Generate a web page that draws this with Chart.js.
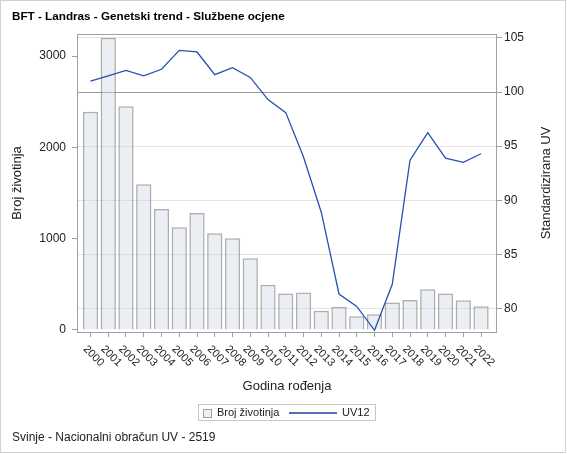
<!DOCTYPE html>
<html>
<head>
<meta charset="utf-8">
<script src="https://cdn.jsdelivr.net/npm/chart.js@4"></script>
<style>
  body { margin: 0; background: #fff; }
  #wrap { width: 567px; height: 454px; }
</style>
</head>
<body>
<div id="wrap"><canvas id="c" width="567" height="454"></canvas></div>
<script>
// values
const categories = ['2000','2001','2002','2003','2004','2005','2006','2007','2008','2009','2010',
  '2011','2012','2013','2014','2015','2016','2017','2018','2019','2020','2021','2022'];
const brojZivotinja = [2390, 3200, 2450, 1595, 1325, 1125, 1280, 1060, 1005, 785, 495,
  400, 410, 210, 255, 150, 172, 300, 328, 445, 400, 325, 260];
const uv12 = [101.0, 101.5, 102.0, 101.5, 102.1, 103.85, 103.7, 101.6, 102.25, 101.35, 99.3,
  98.1, 94.0, 88.9, 81.35, 80.2, 78.0, 82.25, 93.7, 96.25, 93.9, 93.5, 94.3];
const leftTicks = [0, 1000, 2000, 3000];
const rightTicks = [80, 85, 90, 95, 100, 105];

const FONT = 'Liberation Sans, Arial, sans-serif';
const frameColor = '#a0a0a0';

// title, frame, rotated year labels, right axis title, legend, footnote
const decor = {
  id: 'decor',
  afterDraw(chart) {
    const ctx = chart.ctx;
    const a = chart.chartArea;
    const xs = chart.scales.x;
    ctx.save();
    // outer border
    ctx.strokeStyle = '#d0d0d0';
    ctx.lineWidth = 1;
    ctx.strokeRect(0.5, 0.5, 565, 452);
    // plot frame
    ctx.strokeStyle = frameColor;
    ctx.strokeRect(Math.round(a.left) + 0.5, Math.round(a.top) + 0.5,
      Math.round(a.right - a.left) - 1, Math.round(a.bottom - a.top));
    // title
    ctx.fillStyle = '#000';
    ctx.font = 'bold 11.7px ' + FONT;
    ctx.textAlign = 'left';
    ctx.textBaseline = 'middle';
    ctx.fillText('BFT - Landras - Genetski trend - Službene ocjene', 12, 17);
    // year labels, rotated clockwise
    ctx.font = '11px ' + FONT;
    ctx.fillStyle = '#222';
    ctx.textAlign = 'center';
    categories.forEach((c, i) => {
      const px = xs.getPixelForValue(i);
      ctx.save();
      ctx.translate(px + 3, a.bottom + 24);
      ctx.rotate(Math.PI / 4);
      ctx.fillText(c, 0, 0);
      ctx.restore();
    });
    // right axis title, reading upwards
    ctx.font = '13px ' + FONT;
    ctx.save();
    ctx.translate(546, (a.top + a.bottom) / 2);
    ctx.rotate(-Math.PI / 2);
    ctx.fillText('Standardizirana UV', 0, 0);
    ctx.restore();
    // legend
    const ds = chart.data.datasets;
    ctx.font = '11px ' + FONT;
    ctx.textAlign = 'left';
    ctx.strokeStyle = '#c8c8c8';
    ctx.strokeRect(198.5, 404.5, 177, 16);
    ctx.fillStyle = '#edf0f4';
    ctx.strokeStyle = '#a0a0a0';
    ctx.fillRect(203, 409, 8, 8);
    ctx.strokeRect(203.5, 409.5, 8, 8);
    ctx.fillStyle = '#222';
    ctx.fillText(ds[1].label, 217, 413);
    ctx.strokeStyle = '#1c3f9c';
    ctx.lineWidth = 1.5;
    ctx.beginPath();
    ctx.moveTo(289, 413);
    ctx.lineTo(337, 413);
    ctx.stroke();
    ctx.fillText(ds[0].label, 342, 413);
    // footnote
    ctx.font = '12px ' + FONT;
    ctx.fillText('Svinje - Nacionalni obračun UV - 2519', 12, 438);
    ctx.restore();
  }
};

new Chart(document.getElementById('c'), {
  data: {
    datasets: [
      {
        type: 'line',
        label: 'UV12',
        data: uv12.map((v, i) => ({ x: i, y: v })),
        yAxisID: 'y1',
        borderColor: '#2650b4',
        borderWidth: 1.3,
        pointRadius: 0,
        tension: 0,
        order: 0
      },
      {
        type: 'bar',
        label: 'Broj životinja',
        data: brojZivotinja.map((v, i) => ({ x: i, y: v })),
        yAxisID: 'y',
        backgroundColor: 'rgba(205,212,226,0.4)',
        borderColor: 'rgba(120,120,120,0.6)',
        borderWidth: 1.5,
        barPercentage: 0.86,
        categoryPercentage: 1,
        order: 1
      }
    ]
  },
  options: {
    responsive: false,
    animation: false,
    events: [],
    layout: { padding: { left: 0, right: 0, top: 34, bottom: 60 } },
    plugins: { legend: { display: false }, tooltip: { enabled: false } },
    scales: {
      x: {
        type: 'linear',
        offset: false,
        min: -0.76,
        max: 22.9,
        afterBuildTicks: s => { s.ticks = categories.map((c, i) => ({ value: i })); },
        afterFit: s => { s.height = 62; },
        grid: { offset: false, drawOnChartArea: false, tickLength: 5, color: frameColor },
        border: { display: false },
        ticks: { display: false },
        title: {
          display: true, text: 'Godina rođenja', color: '#222',
          font: { family: FONT, size: 13 }, padding: { top: 0, bottom: 0 }
        }
      },
      y: {
        position: 'left',
        min: -22,
        max: 3241,
        afterBuildTicks: s => { s.ticks = leftTicks.map(v => ({ value: v })); },
        afterFit: s => { s.width = 77; },
        grid: { drawOnChartArea: false, tickLength: 5, color: frameColor },
        border: { display: false },
        ticks: { color: '#222', padding: 6, font: { family: FONT, size: 12 }, callback: v => String(v) },
        title: {
          display: true, text: 'Broj životinja', color: '#222',
          font: { family: FONT, size: 13 }, padding: { top: 10, bottom: 0 }
        }
      },
      y1: {
        position: 'right',
        min: 77.84,
        max: 105.36,
        afterBuildTicks: s => { s.ticks = rightTicks.map(v => ({ value: v })); },
        afterFit: s => { s.width = 70; },
        grid: {
          drawOnChartArea: true,
          tickLength: 5,
          color: c => (c.tick && c.tick.value === 100) ? '#9a9a9a' : '#e4e4e4',
          tickColor: frameColor
        },
        border: { display: false },
        ticks: { color: '#222', padding: 2, font: { family: FONT, size: 12 }, callback: v => String(v) },
        title: { display: false }
      }
    }
  },
  plugins: [decor]
});
</script>
</body>
</html>
